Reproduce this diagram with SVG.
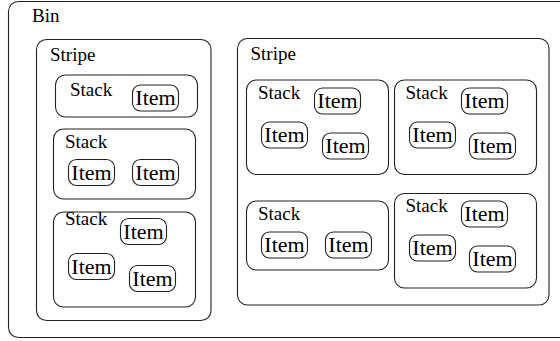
<svg xmlns="http://www.w3.org/2000/svg" width="560" height="341" viewBox="0 0 560 341">
<style>
rect{fill:none;stroke:#222;stroke-width:1.1}
text{fill:#000;font-family:"Liberation Serif","Times New Roman",serif}
.lbl{font-size:19px}
.it{font-size:22px;text-anchor:middle}
</style>
<rect x="0" y="0" width="560" height="341" style="fill:#fff;stroke:none"/>
<g id="bin">
<rect x="8.5" y="1.5" width="580" height="336" rx="10"/>
<text class="lbl" x="32" y="22">Bin</text>
</g>
<g id="stripe1">
<rect x="36.5" y="39.5" width="174.5" height="281" rx="10"/>
<text class="lbl" x="50" y="61">Stripe</text>
</g>
<g id="stack1">
<rect x="55.5" y="75" width="142" height="42" rx="10"/>
<text class="lbl" x="70" y="95.5">Stack</text>
</g>
<g id="item1"><rect x="132.5" y="85" width="46" height="26" rx="8"/><text class="it" x="155.5" y="105">Item</text></g>
<g id="stack2">
<rect x="53.5" y="129" width="142" height="70" rx="10"/>
<text class="lbl" x="65" y="148">Stack</text>
</g>
<g id="item2"><rect x="68.5" y="159.5" width="46" height="26" rx="8"/><text class="it" x="91.5" y="179.5">Item</text></g>
<g id="item3"><rect x="132.5" y="159.5" width="46" height="26" rx="8"/><text class="it" x="155.5" y="179.5">Item</text></g>
<g id="stack3">
<rect x="53.5" y="212" width="142" height="95" rx="10"/>
<text class="lbl" x="65" y="225">Stack</text>
</g>
<g id="item4"><rect x="120.5" y="218.5" width="46" height="26" rx="8"/><text class="it" x="143.5" y="238.5">Item</text></g>
<g id="item5"><rect x="68.5" y="253.5" width="46" height="26" rx="8"/><text class="it" x="91.5" y="273.5">Item</text></g>
<g id="item6"><rect x="129.5" y="265.5" width="46" height="26" rx="8"/><text class="it" x="152.5" y="285.5">Item</text></g>
<g id="stripe2">
<rect x="237.5" y="38.5" width="311.5" height="266.5" rx="10"/>
<text class="lbl" x="250.5" y="60">Stripe</text>
</g>
<g id="stack4">
<rect x="246.5" y="80" width="142" height="94.5" rx="10"/>
<text class="lbl" x="258" y="98.5">Stack</text>
</g>
<g id="item7"><rect x="314.5" y="88" width="46" height="26" rx="8"/><text class="it" x="337.5" y="108">Item</text></g>
<g id="item8"><rect x="261.5" y="122" width="46" height="26" rx="8"/><text class="it" x="284.5" y="142">Item</text></g>
<g id="item9"><rect x="322.5" y="133" width="46" height="26" rx="8"/><text class="it" x="345.5" y="153">Item</text></g>
<g id="stack5">
<rect x="394.5" y="80" width="142" height="94.5" rx="10"/>
<text class="lbl" x="405.5" y="98.5">Stack</text>
</g>
<g id="item10"><rect x="461.5" y="88" width="46" height="26" rx="8"/><text class="it" x="484.5" y="108">Item</text></g>
<g id="item11"><rect x="409.5" y="122" width="46" height="26" rx="8"/><text class="it" x="432.5" y="142">Item</text></g>
<g id="item12"><rect x="469.5" y="133" width="46" height="26" rx="8"/><text class="it" x="492.5" y="153">Item</text></g>
<g id="stack6">
<rect x="246.5" y="201" width="142" height="69" rx="10"/>
<text class="lbl" x="258" y="220">Stack</text>
</g>
<g id="item13"><rect x="261.5" y="232" width="46" height="26" rx="8"/><text class="it" x="284.5" y="252">Item</text></g>
<g id="item14"><rect x="325.5" y="232" width="46" height="26" rx="8"/><text class="it" x="348.5" y="252">Item</text></g>
<g id="stack7">
<rect x="394.5" y="193.5" width="142" height="94.5" rx="10"/>
<text class="lbl" x="405.5" y="212">Stack</text>
</g>
<g id="item15"><rect x="461.5" y="201" width="46" height="26" rx="8"/><text class="it" x="484.5" y="221">Item</text></g>
<g id="item16"><rect x="409.5" y="235" width="46" height="26" rx="8"/><text class="it" x="432.5" y="255">Item</text></g>
<g id="item17"><rect x="469.5" y="246" width="46" height="26" rx="8"/><text class="it" x="492.5" y="266">Item</text></g>
<g id="connectors"></g>
</svg>
